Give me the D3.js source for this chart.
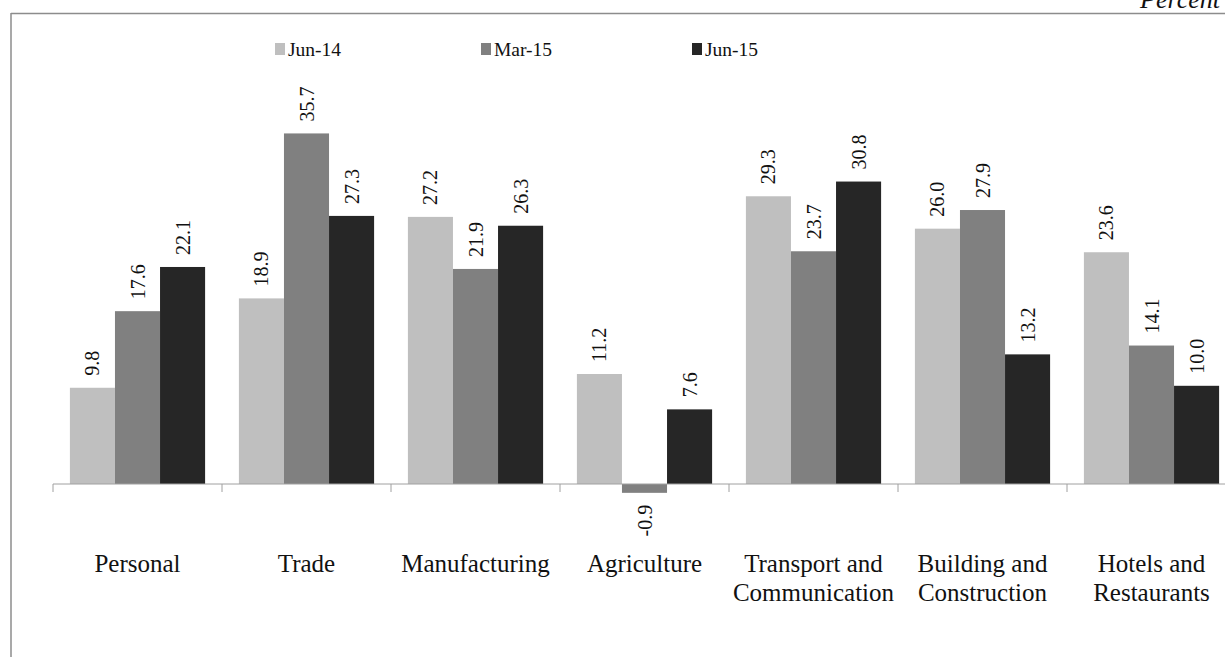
<!DOCTYPE html>
<html><head><meta charset="utf-8">
<script src="https://cdn.jsdelivr.net/npm/d3@7"></script>
<style>html,body{margin:0;padding:0;background:#fff;overflow:hidden}</style>
</head><body><svg id="c" width="1225" height="657"></svg>
<script>
const categories = [["Personal"],["Trade"],["Manufacturing"],["Agriculture"],["Transport and","Communication"],["Building and","Construction"],["Hotels and","Restaurants"]];
const seriesNames = ["Jun-14","Mar-15","Jun-15"];
const jun14 = [9.8, 18.9, 27.2, 11.2, 29.3, 26.0, 23.6];
const mar15 = [17.6, 35.7, 21.9, -0.9, 23.7, 27.9, 14.1];
const jun15 = [22.1, 27.3, 26.3, 7.6, 30.8, 13.2, 10.0];
const colors = ["#bfbfbf","#808080","#262626"];
const unitLabel = "Percent";

const svg = d3.select("#c");
const font = "'Liberation Serif','Times New Roman',serif";
const series = [jun14, mar15, jun15];
const catIdx = d3.range(categories.length);

const x = d3.scaleBand().domain(catIdx).range([53, 1236]).paddingInner(0).paddingOuter(0);
const xs = d3.scaleBand().domain(d3.range(3)).range([0, x.bandwidth()]).paddingOuter(0.375).paddingInner(0);
const y = d3.scaleLinear().domain([-10, 40]).range([484 + 98.2, 484 - 392.8]);

// frame
svg.append("line").attr("x1",11).attr("x2",1225).attr("y1",13.5).attr("y2",13.5).attr("stroke","#8c8c8c").attr("stroke-width",1.5);
svg.append("line").attr("x1",11).attr("x2",11).attr("y1",13).attr("y2",657).attr("stroke","#8c8c8c").attr("stroke-width",1.5);
svg.append("text").attr("x",1220).attr("y",8).attr("text-anchor","end").attr("font-family",font).attr("font-style","italic").attr("font-size",26).attr("fill","#111").text(unitLabel);

// bars
series.forEach((vals, si) => {
  svg.append("g").selectAll("rect").data(vals).join("rect")
    .attr("x", (d,i) => x(i) + xs(si))
    .attr("width", xs.bandwidth())
    .attr("y", d => y(Math.max(0,d)))
    .attr("height", d => Math.abs(y(d) - y(0)))
    .attr("fill", colors[si]);
  svg.append("g").selectAll("text").data(vals).join("text")
    .attr("transform", (d,i) => {
      const cx = x(i) + xs(si) + xs.bandwidth()/2;
      const cy = d >= 0 ? y(d) - 12 : y(d) + 12;
      return `translate(${cx},${cy}) rotate(-90)`;
    })
    .attr("text-anchor", d => d >= 0 ? "start" : "end")
    .attr("dy","0.35em")
    .attr("font-family",font).attr("font-size",20).attr("fill","#111")
    .text(d => d.toFixed(1));
});

// axis
const axis = d3.axisBottom(x).tickSize(8).tickFormat("");
const ag = svg.append("g").attr("transform",`translate(0,${y(0)})`).call(axis);
ag.select(".domain").attr("stroke","#a0a0a0").attr("d", `M53,0H1236`);
ag.selectAll(".tick").remove();
const bounds = d3.range(categories.length + 1).map(i => 53 + i * x.step());
ag.selectAll("line.tk").data(bounds).join("line").attr("class","tk")
  .attr("x1",d=>d).attr("x2",d=>d).attr("y1",0).attr("y2",8).attr("stroke","#a0a0a0");

// category labels
catIdx.forEach(i => {
  const t = svg.append("text").attr("x", x(i) + x.bandwidth()/2).attr("y", 572)
    .attr("text-anchor","middle").attr("font-family",font).attr("font-size",25).attr("fill","#111");
  categories[i].forEach((ln, k) => t.append("tspan").attr("x", x(i) + x.bandwidth()/2).attr("dy", k ? 28.5 : 0).text(ln));
});

// legend
const legX = [275, 481, 692];
seriesNames.forEach((n, i) => {
  svg.append("rect").attr("x", legX[i]).attr("y", 43).attr("width", 10).attr("height", 12).attr("fill", colors[i]);
  svg.append("text").attr("x", legX[i] + 13).attr("y", 56).attr("font-family",font).attr("font-size",19.5).attr("fill","#111").text(n);
});
</script></body></html>
